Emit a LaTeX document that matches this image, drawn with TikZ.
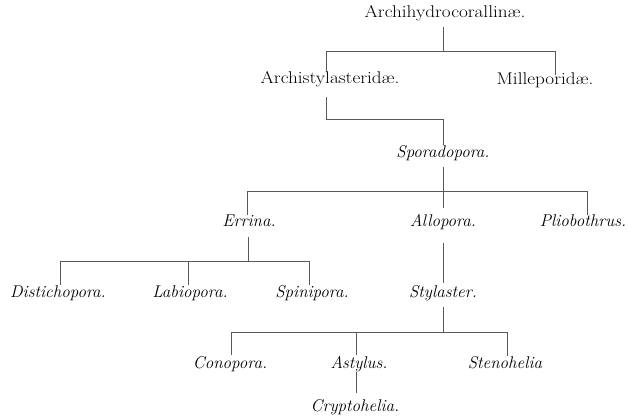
\documentclass[tikz,border=0pt]{standalone}
\usepackage{fontspec}
\newcommand\widetext[1]{\scalebox{1.13}[1]{#1}}
\begin{document}
\begin{tikzpicture}[x=1pt,y=-1pt,
  lbl/.style={inner xsep=0pt,inner ysep=1pt,text height=9pt,text depth=3pt,
    font=\fontsize{17}{19}\selectfont, text=black},
  ilbl/.style={lbl,font=\fontsize{17}{19}\selectfont\itshape},
  conn/.style={draw=black!65,line width=0.8pt}]
\useasboundingbox (0,0) rectangle (630,417);
% labels
\node[lbl]  (n1)  at (445,15)  {\widetext{Archihydrocorallinæ.}};
\node[lbl]  (n2)  at (330,81)  {\widetext{Archistylasteridæ.}};
\node[lbl]  (n3)  at (545,82)  {\widetext{Milleporidæ.}};
\node[ilbl] (n4)  at (443,155) {Sporadopora.};
\node[ilbl] (n5)  at (249,224) {Errina.};
\node[ilbl] (n6)  at (443,223) {Allopora.};
\node[ilbl] (n7)  at (583,223) {Pliobothrus.};
\node[ilbl] (n8)  at (58,295)  {Distichopora.};
\node[ilbl] (n9)  at (190,295) {Labiopora.};
\node[ilbl] (n10) at (312,295) {Spinipora.};
\node[ilbl] (n11) at (443,295) {Stylaster.};
\node[ilbl] (n12) at (230,365) {Conopora.};
\node[ilbl] (n13) at (359,365) {Astylus.};
\node[ilbl] (n14) at (505,365) {Stenohelia};
\node[ilbl] (n15) at (355,408) {Cryptohelia.};
% bar coordinates
\coordinate (b1l) at (326,51);  \coordinate (b1r) at (555,51);  \coordinate (b1m) at (443,51);
\coordinate (b2l) at (326,119); \coordinate (b2r) at (443,119);
\coordinate (b3l) at (247,191); \coordinate (b3r) at (587,191); \coordinate (b3m) at (443,191);
\coordinate (b4l) at (60,261);  \coordinate (b4r) at (309,261); \coordinate (b4a) at (248,261); \coordinate (b4b) at (188,261);
\coordinate (b5l) at (231,332); \coordinate (b5r) at (507,332); \coordinate (b5m) at (443,332); \coordinate (b5a) at (356,332);
% bars
\draw[conn] (b1l) -- (b1r);
\draw[conn] (b2l) -- (b2r);
\draw[conn] (b3l) -- (b3r);
\draw[conn] (b4l) -- (b4r);
\draw[conn] (b5l) -- (b5r);
% verticals
\draw[conn] ([yshift=-5pt]n1.south -| b1m) -- (b1m);
\draw[conn] (b1l) -- ([yshift=2pt]n2.north -| b1l);
\draw[conn] (b1r) -- (n3.north -| b1r);
\draw[conn] ([yshift=-9pt]n2.south -| b2l) -- (b2l);
\draw[conn] (b2r) -- ([yshift=3pt]n4.north);
\draw[conn] ([yshift=-5pt]n4.south) -- (b3m);
\draw[conn] (b3l) -- ([yshift=2pt]n5.north -| b3l);
\draw[conn] (b3m) -- ([yshift=8pt]n6.north);
\draw[conn] (b3r) -- ([yshift=1pt]n7.north -| b3r);
\draw[conn] ([yshift=-6pt]n5.south -| b4a) -- (b4a);
\draw[conn] (b4l) -- ([yshift=3pt]n8.north -| b4l);
\draw[conn] (b4b) -- ([yshift=3pt]n9.north -| b4b);
\draw[conn] (b4r) -- ([yshift=3pt]n10.north -| b4r);
\draw[conn] ([yshift=-13pt]n6.south) -- ([yshift=5pt]n11.north);
\draw[conn] ([yshift=-5pt]n11.south) -- (b5m);
\draw[conn] (b5l) -- ([yshift=3pt]n12.north -| b5l);
\draw[conn] (b5a) -- ([yshift=3pt]n13.north -| b5a);
\draw[conn] (b5r) -- ([yshift=2pt]n14.north -| b5r);
\draw[conn] (n13.south -| b5a) -- ([yshift=8pt]n15.north -| b5a);
\end{tikzpicture}
\end{document}
